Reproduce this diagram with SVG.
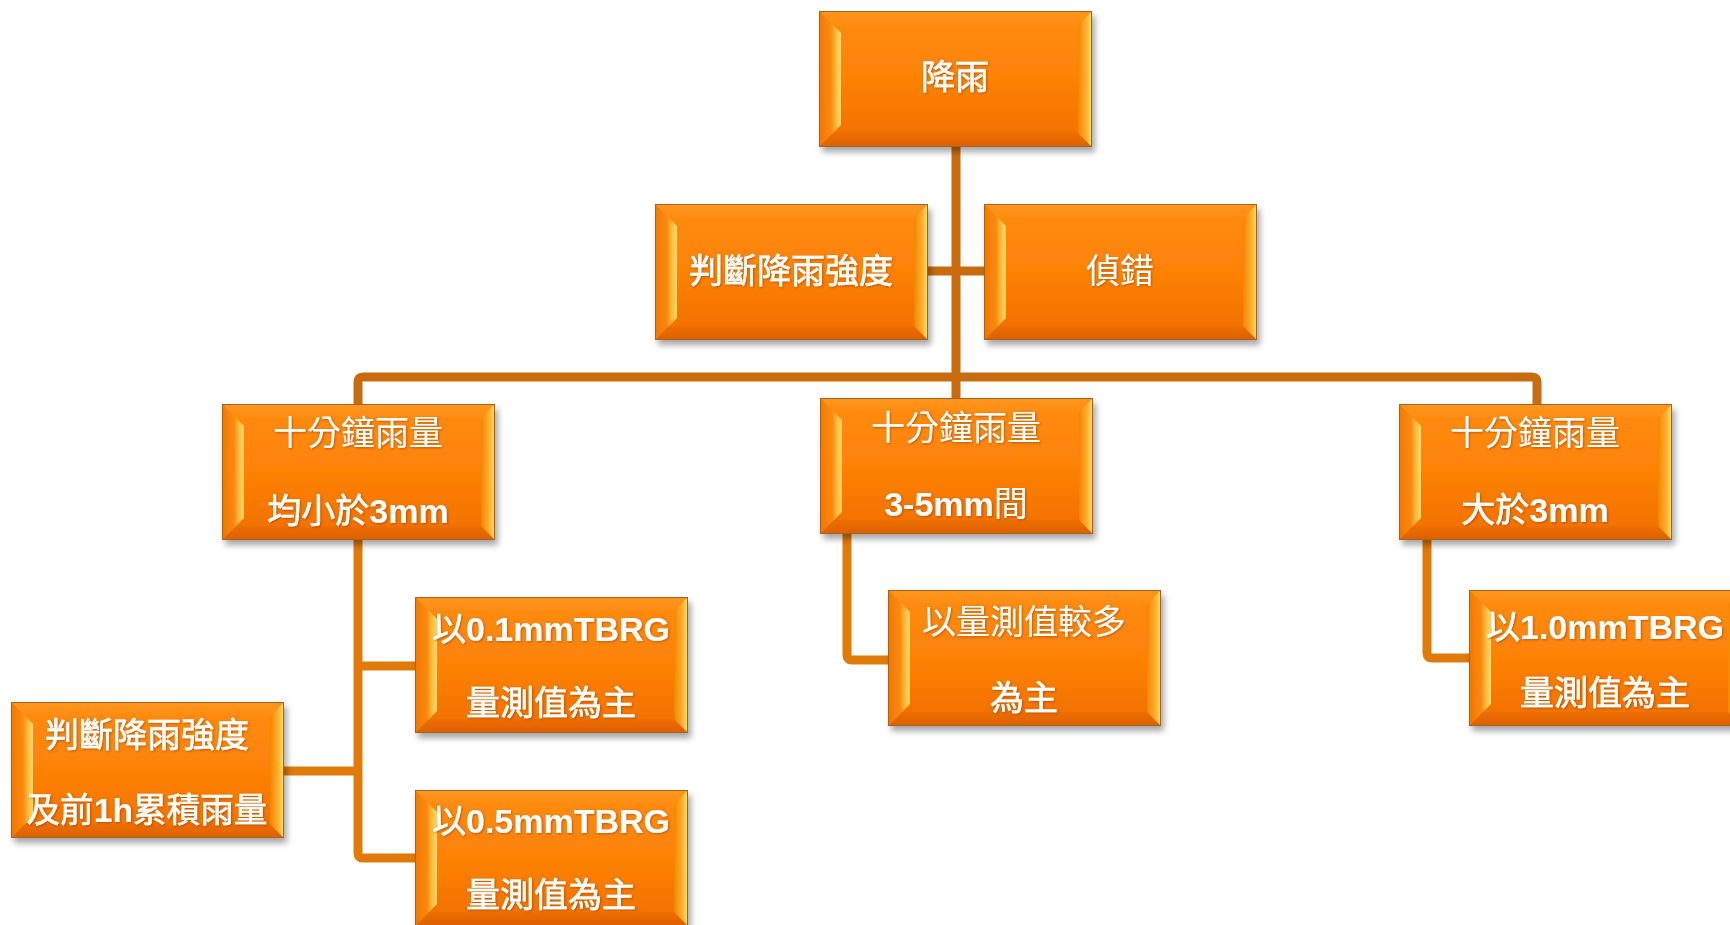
<svg xmlns="http://www.w3.org/2000/svg" xmlns:xlink="http://www.w3.org/1999/xlink" width="1730" height="925" viewBox="0 0 1730 925">
<style>
.t{font-family:"Liberation Sans","Noto Sans CJK TC",sans-serif;font-size:34px;fill:#fff;text-anchor:middle;dominant-baseline:central;filter:url(#ts)}
.b{font-weight:bold}
.m{stroke:#fff;stroke-width:0.6px}
.c1{fill:none;stroke:#c96c10;stroke-width:9;stroke-linejoin:round}
.c2{fill:none;stroke:#e07a08;stroke-width:9;stroke-linejoin:round}
</style>
<defs>
<linearGradient id="face" x1="0" y1="0" x2="0" y2="1">
<stop offset="0" stop-color="#ff8c0e"/>
<stop offset="0.5" stop-color="#fd8206"/>
<stop offset="1" stop-color="#f06e00"/>
</linearGradient>
<linearGradient id="topB" x1="0" y1="0" x2="0" y2="1">
<stop offset="0" stop-color="#ff9620"/>
<stop offset="1" stop-color="#ff8c10"/>
</linearGradient>
<linearGradient id="botB" x1="0" y1="0" x2="0" y2="1">
<stop offset="0" stop-color="#ee6e00"/>
<stop offset="1" stop-color="#dc6000"/>
</linearGradient>
<linearGradient id="leftB" x1="0" y1="0" x2="1" y2="0">
<stop offset="0" stop-color="#f07800"/>
<stop offset="0.55" stop-color="#fb8a10"/>
<stop offset="0.8" stop-color="#ffc848"/>
<stop offset="1" stop-color="#ffe27a"/>
</linearGradient>
<linearGradient id="rightB" x1="0" y1="0" x2="1" y2="0">
<stop offset="0" stop-color="#f58400"/>
<stop offset="0.6" stop-color="#ffb030"/>
<stop offset="1" stop-color="#ffe468"/>
</linearGradient>
<filter id="sh" x="-10%" y="-10%" width="125%" height="130%">
<feDropShadow dx="3" dy="5" stdDeviation="3" flood-color="#000" flood-opacity="0.35"/>
</filter>
<filter id="ts" x="-5%" y="-20%" width="110%" height="140%">
<feDropShadow dx="1" dy="1" stdDeviation="0.8" flood-color="#7a3000" flood-opacity="0.5"/>
</filter>
<symbol id="box" width="273" height="136" viewBox="0 0 273 136" overflow="visible">
<rect x="0" y="0" width="273" height="136" fill="url(#face)"/>
<polygon points="0,0 273,0 259,14 14,14" fill="url(#topB)"/>
<polygon points="0,136 273,136 259,122 14,122" fill="url(#botB)"/>
<polygon points="0,0 22,22 22,114 0,136" fill="url(#leftB)" opacity="0.9"/>
<polygon points="273,0 273,136 259,122 259,14" fill="url(#rightB)"/>
<rect x="0.5" y="0.5" width="272" height="135" fill="none" stroke="#a8621c" stroke-width="1"/>
</symbol>
</defs>
<rect width="1730" height="925" fill="#fff"/>

<g id="connectors">
<path class="c1" d="M956 147V398"/>
<path class="c1" d="M927 271H984"/>
<path class="c1" d="M358 404V382Q358 377 363 377H1532Q1537 377 1537 382V404"/>
<path class="c2" d="M358 540V853Q358 858 363 858H415"/>
<path class="c2" d="M358 666H415"/>
<path class="c2" d="M284 771H358"/>
<path class="c2" d="M847 534V655Q847 660 852 660H888"/>
<path class="c2" d="M1427 540V653Q1427 658 1432 658H1469"/>
</g>

<g id="n1">
<use xlink:href="#box" x="819" y="11" filter="url(#sh)"/>
<text class="t m" x="955" y="77">降雨</text>
</g>
<g id="n2">
<use xlink:href="#box" x="655" y="204" filter="url(#sh)"/>
<text class="t m" x="791" y="271">判斷降雨強度</text>
</g>
<g id="n3">
<use xlink:href="#box" x="984" y="204" filter="url(#sh)"/>
<text class="t" x="1120" y="271">偵錯</text>
</g>
<g id="n4">
<use xlink:href="#box" x="222" y="404" filter="url(#sh)"/>
<text class="t" x="358" y="433">十分鐘雨量</text>
<text class="t" x="358" y="511"><tspan class="m">均小於</tspan><tspan class="b">3mm</tspan></text>
</g>
<g id="n5">
<use xlink:href="#box" x="820" y="398" filter="url(#sh)"/>
<text class="t" x="956" y="428">十分鐘雨量</text>
<text class="t" x="956" y="504"><tspan class="b">3-5mm</tspan>間</text>
</g>
<g id="n6">
<use xlink:href="#box" x="1399" y="404" filter="url(#sh)"/>
<text class="t" x="1535" y="433">十分鐘雨量</text>
<text class="t" x="1535" y="510"><tspan class="m">大於</tspan><tspan class="b">3mm</tspan></text>
</g>
<g id="n7">
<use xlink:href="#box" x="415" y="597" filter="url(#sh)"/>
<text class="t" x="551" y="629"><tspan class="m">以</tspan><tspan class="b">0.1mmTBRG</tspan></text>
<text class="t m" x="551" y="703">量測值為主</text>
</g>
<g id="n8">
<use xlink:href="#box" x="415" y="790" filter="url(#sh)"/>
<text class="t" x="551" y="821"><tspan class="m">以</tspan><tspan class="b">0.5mmTBRG</tspan></text>
<text class="t m" x="551" y="895">量測值為主</text>
</g>
<g id="n9">
<use xlink:href="#box" x="11" y="702" filter="url(#sh)"/>
<text class="t m" x="147" y="735">判斷降雨強度</text>
<text class="t" x="147" y="810" textLength="241" lengthAdjust="spacingAndGlyphs"><tspan class="m">及前</tspan><tspan class="b">1h</tspan><tspan class="m">累積雨量</tspan></text>
</g>
<g id="n10">
<use xlink:href="#box" x="888" y="590" filter="url(#sh)"/>
<text class="t" x="1024" y="622">以量測值較多</text>
<text class="t m" x="1024" y="698">為主</text>
</g>
<g id="n11">
<use xlink:href="#box" x="1469" y="590" filter="url(#sh)"/>
<text class="t" x="1605" y="627"><tspan class="m">以</tspan><tspan class="b">1.0mmTBRG</tspan></text>
<text class="t m" x="1605" y="693">量測值為主</text>
</g>
</svg>
